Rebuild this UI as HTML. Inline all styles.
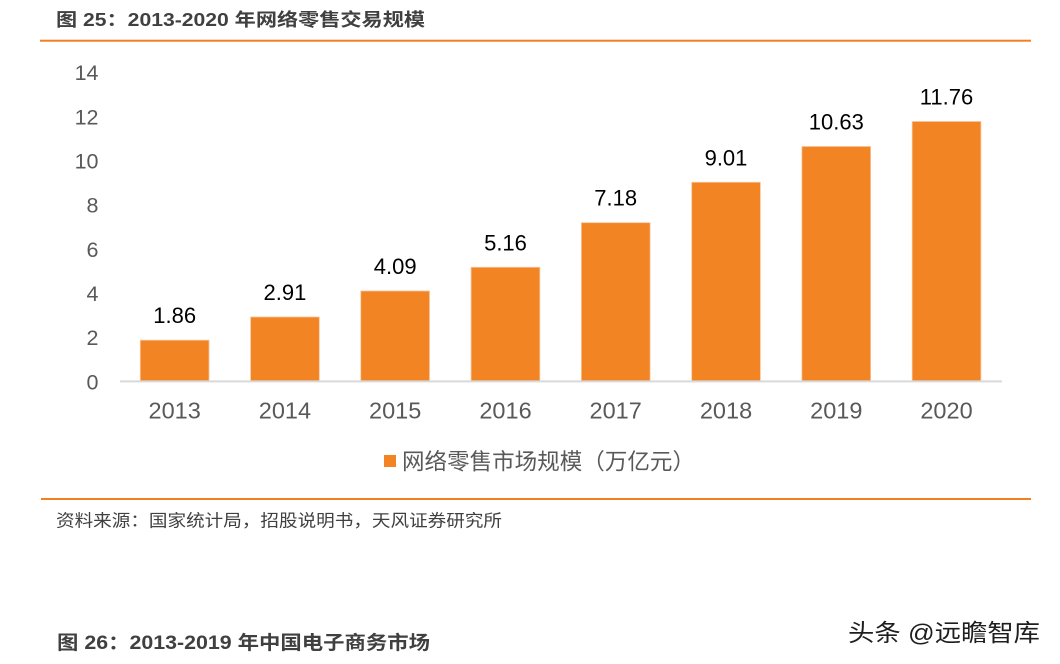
<!DOCTYPE html>
<html>
<head>
<meta charset="utf-8">
<style>
  html, body { margin: 0; padding: 0; background: #ffffff; }
  body { width: 1060px; height: 664px; overflow: hidden; }
  svg { display: block; }
  text { font-family: "Liberation Sans", "Noto Sans CJK SC", sans-serif; }
</style>
</head>
<body>
<svg width="1060" height="664" viewBox="0 0 1060 664" xmlns="http://www.w3.org/2000/svg">
  <rect x="0" y="0" width="1060" height="664" fill="#ffffff"/>

  <!-- Title -->
  <text x="56" y="26" font-size="18" font-weight="bold" fill="#404040" textLength="369" lengthAdjust="spacingAndGlyphs">图 25：2013-2020 年网络零售交易规模</text>
  <rect x="40" y="39.7" width="991" height="2" fill="#F08022"/>

  <!-- Y tick labels -->
  <g font-size="21.5" fill="#595959" text-anchor="end">
    <text x="98.5" y="389.3">0</text>
    <text x="98.5" y="345.1">2</text>
    <text x="98.5" y="301.0">4</text>
    <text x="98.5" y="256.8">6</text>
    <text x="98.5" y="212.6">8</text>
    <text x="98.5" y="168.4">10</text>
    <text x="98.5" y="124.3">12</text>
    <text x="98.5" y="80.1">14</text>
  </g>

  <!-- Bars -->
  <g fill="#F38424" stroke="#F9C49A" stroke-width="0.8">
    <rect x="140.3" y="340.2" width="68.7" height="41.1"/>
    <rect x="250.6" y="317.0" width="68.7" height="64.3"/>
    <rect x="360.8" y="291.0" width="68.7" height="90.3"/>
    <rect x="471.1" y="267.3" width="68.7" height="114.0"/>
    <rect x="581.4" y="222.7" width="68.7" height="158.6"/>
    <rect x="691.7" y="182.3" width="68.7" height="199.0"/>
    <rect x="801.9" y="146.5" width="68.7" height="234.8"/>
    <rect x="912.2" y="121.5" width="68.7" height="259.8"/>
  </g>

  <!-- Axis line -->
  <rect x="120" y="380.4" width="882" height="2" fill="#D9D9D9"/>

  <!-- Value labels -->
  <g font-size="22" fill="#000000" text-anchor="middle">
    <text x="174.65" y="323.2">1.86</text>
    <text x="284.9" y="300.0">2.91</text>
    <text x="395.2" y="274.0">4.09</text>
    <text x="505.5" y="250.3">5.16</text>
    <text x="615.7" y="205.7">7.18</text>
    <text x="726.0" y="165.3">9.01</text>
    <text x="836.3" y="129.5">10.63</text>
    <text x="946.5" y="104.5">11.76</text>
  </g>

  <!-- Year labels -->
  <g font-size="23.5" fill="#595959" text-anchor="middle">
    <text x="174.65" y="418.3">2013</text>
    <text x="284.9" y="418.3">2014</text>
    <text x="395.2" y="418.3">2015</text>
    <text x="505.5" y="418.3">2016</text>
    <text x="615.7" y="418.3">2017</text>
    <text x="726.0" y="418.3">2018</text>
    <text x="836.3" y="418.3">2019</text>
    <text x="946.5" y="418.3">2020</text>
  </g>

  <!-- Legend -->
  <rect x="384" y="455" width="12" height="12" fill="#F38424"/>
  <text x="402" y="469.5" font-size="22.5" fill="#595959" textLength="293" lengthAdjust="spacingAndGlyphs">网络零售市场规模（万亿元）</text>

  <!-- Bottom line -->
  <rect x="41" y="498" width="990" height="2" fill="#F08022"/>

  <!-- Source -->
  <text x="56" y="526.5" font-size="17" fill="#404040" textLength="446" lengthAdjust="spacingAndGlyphs">资料来源：国家统计局，招股说明书，天风证券研究所</text>

  <!-- Next figure title -->
  <text x="57" y="649" font-size="19" font-weight="bold" fill="#404040" textLength="373" lengthAdjust="spacingAndGlyphs">图 26：2013-2019 年中国电子商务市场</text>

  <!-- Watermark -->
  <text x="849" y="642" font-size="24" fill="#ffffff" textLength="192" lengthAdjust="spacingAndGlyphs">头条 @远瞻智库</text>
  <text x="848" y="641" font-size="24" fill="#1e1e1e" textLength="192" lengthAdjust="spacingAndGlyphs">头条 @远瞻智库</text>
</svg>
</body>
</html>
